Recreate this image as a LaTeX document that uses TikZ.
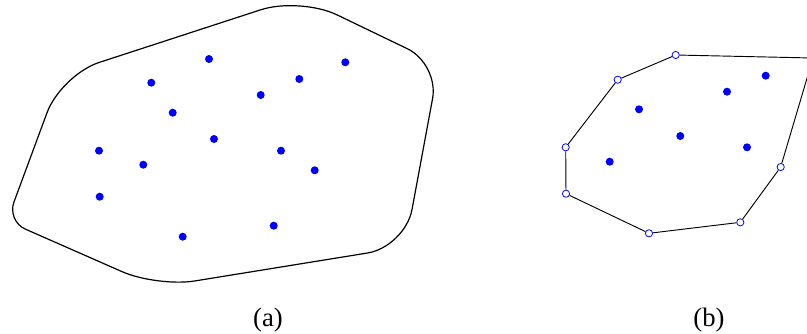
\documentclass[tikz,border=0pt]{standalone}
\usepackage{fontspec}
\setmainfont{Liberation Serif}
\usepackage{tikz}
\usetikzlibrary{positioning}
\tikzset{
    every picture/.style={
        >=stealth,
        line width=0.8pt
    },
    % point styles
    pt/.style={circle,fill=blue,inner sep=0pt,minimum size=6pt},
    hullpt/.style={circle,draw=blue,fill=white,line width=0.6pt,inner sep=0pt,minimum size=5.4pt},
    % outline styles
    region/.style={draw=black,line width=0.9pt},
    hull/.style={draw=black,line width=0.7pt},
    caption/.style={font=\fontsize{20}{24}\selectfont,anchor=base,inner sep=0pt}
}

\begin{document}
\begin{tikzpicture}[x=0.75pt,y=-0.75pt]
    \useasboundingbox (0,0) rectangle (807,333);

    % (a) Region with a point set (smoothed hexagon)
    \draw[region] (13.9,202.2) -- (47.1,112.5)
        .. controls (54.8,91.8) and (78,69.4) .. (99,62.5)
        -- (261,9.7)
        .. controls (282.5,2.7) and (316.5,5) .. (336.9,14.8)
        -- (407.5,48.8)
        .. controls (424.9,57.2) and (436.1,79.4) .. (432.6,98.4)
        -- (412,209.6)
        .. controls (408.1,230.3) and (388.2,249.7) .. (367.5,253)
        -- (194.5,281)
        .. controls (173.8,284.3) and (141.4,280.1) .. (122.2,271.7)
        -- (25.3,229.1)
        .. controls (15.2,224.6) and (10.1,212.6) .. (13.9,202.2)
        -- cycle;

    \node[pt] (a1) at (209,59) {};
    \node[pt] (a2) at (151.3,82.7) {};
    \node[pt] (a3) at (345.3,62.3) {};
    \node[pt] (a4) at (299.3,79) {};
    \node[pt] (a5) at (260.7,95) {};
    \node[pt] (a6) at (172.7,112.7) {};
    \node[pt] (a7) at (214,139) {};
    \node[pt] (a8) at (99,150.7) {};
    \node[pt] (a9) at (281,150.7) {};
    \node[pt] (a10) at (143.3,164.7) {};
    \node[pt] (a11) at (314.7,170.3) {};
    \node[pt] (a12) at (99.7,196.7) {};
    \node[pt] (a13) at (273.7,225.7) {};
    \node[pt] (a14) at (182.7,236.7) {};

    % (b) Convex hull of the point set
    \node[hullpt] (h1) at (675.7,55) {};
    \node[hullpt] (h2) at (617.7,79.7) {};
    \node[hullpt] (h3) at (565.7,147.3) {};
    \node[hullpt] (h4) at (566,193.7) {};
    \node[hullpt] (h5) at (649,233.3) {};
    \node[hullpt] (h6) at (740.3,222.3) {};
    \node[hullpt] (h7) at (780.7,167) {};
    \node[hullpt] (h8) at (813,58) {};

    \draw[hull] (h1) -- (h2) -- (h3) -- (h4) -- (h5) -- (h6) -- (h7) -- (h8) -- (h1);

    % inner points
    \node[pt] (b1) at (639,109.3) {};
    \node[pt] (b2) at (727,91.7) {};
    \node[pt] (b3) at (765.7,75.7) {};
    \node[pt] (b4) at (680.3,136) {};
    \node[pt] (b5) at (747,147.3) {};
    \node[pt] (b6) at (609.7,161.7) {};

    % Captions
    \node[caption] (capa) at (268,326) {(a)};
    \node[caption] (capb) at (709,326) {(b)};
\end{tikzpicture}
\end{document}
